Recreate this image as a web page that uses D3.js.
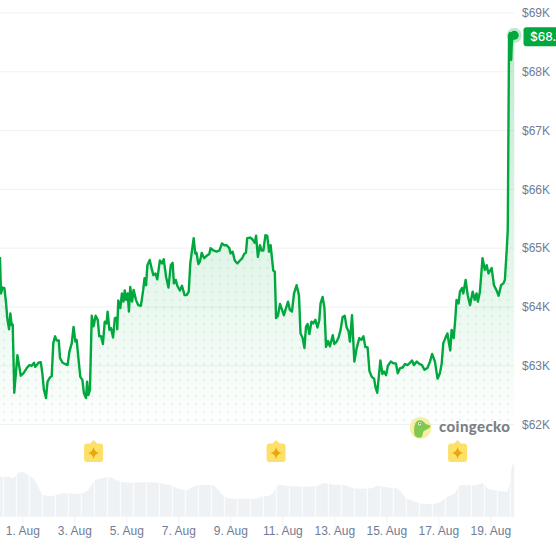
<!DOCTYPE html>
<html>
<head>
<meta charset="utf-8">
<script src="https://cdn.jsdelivr.net/npm/d3@7"></script>
<style>
html, body { margin: 0; padding: 0; background: #fff; overflow: hidden; }
svg { display: block; font-family: Inter, "Noto Sans", sans-serif; }
.tick text { fill: #6f7c96; font-size: 12px; }
</style>
</head>
<body>
<svg id="chart" width="556" height="545"></svg>
<script>
// day of August (fractional) for each price reading
var priceDays = [0.14,0.18,0.24,0.31,0.37,0.42,0.49,0.54,0.59,0.63,0.69,0.81,0.94,1.04,1.17,1.27,1.36,1.45,1.5,1.62,1.71,1.77,1.83,1.91,1.97,2.06,2.13,2.19,2.26,2.32,2.4,2.45,2.55,2.64,2.74,2.81,2.9,2.97,3.04,3.09,3.17,3.23,3.31,3.37,3.45,3.49,3.54,3.6,3.67,3.74,3.82,3.9,3.96,4.03,4.1,4.17,4.24,4.28,4.35,4.41,4.49,4.56,4.64,4.65,4.69,4.77,4.83,4.89,4.94,4.99,5.05,5.1,5.15,5.22,5.28,5.37,5.46,5.56,5.65,5.7,5.76,5.81,5.9,5.97,6.04,6.12,6.19,6.29,6.37,6.44,6.53,6.62,6.71,6.78,6.83,6.9,6.96,7.06,7.14,7.24,7.32,7.4,7.46,7.51,7.59,7.65,7.7,7.77,7.83,7.9,7.99,8.09,8.19,8.24,8.35,8.47,8.58,8.68,8.76,8.86,8.96,9.01,9.09,9.17,9.27,9.37,9.46,9.53,9.6,9.65,9.76,9.85,9.94,9.99,10.06,10.14,10.2,10.27,10.35,10.42,10.49,10.55,10.65,10.71,10.76,10.83,10.91,10.99,11.06,11.14,11.22,11.29,11.37,11.45,11.55,11.64,11.7,11.78,11.85,11.91,11.97,12.04,12.12,12.19,12.27,12.35,12.42,12.47,12.55,12.62,12.68,12.76,12.83,12.94,13.0,13.09,13.17,13.24,13.32,13.4,13.47,13.55,13.6,13.68,13.77,13.86,13.96,14.04,14.12,14.19,14.28,14.35,14.44,14.53,14.58,14.65,14.71,14.77,14.85,14.91,14.99,15.06,15.17,15.27,15.37,15.44,15.53,15.63,15.72,15.81,15.91,15.99,16.06,16.17,16.27,16.37,16.47,16.58,16.68,16.76,16.87,16.97,17.06,17.13,17.19,17.27,17.35,17.41,17.46,17.51,17.59,17.65,17.7,17.78,17.83,17.91,17.96,18.05,18.13,18.22,18.32,18.4,18.47,18.52,18.6,18.7,18.79,18.86,18.93,19.05,19.14,19.24,19.32,19.41,19.5,19.56,19.63,19.67,19.7,19.72,19.76,19.8,19.83,19.92];
// price in thousand USD
var prices = [64.85,64.23,64.33,64.32,64.09,63.81,63.62,63.89,63.69,63.7,62.54,63.18,62.83,62.87,62.96,63.01,63.0,63.05,62.98,63.05,63.06,62.87,62.59,62.45,62.73,62.8,62.82,63.38,63.5,63.43,63.43,63.13,63.05,63.03,63.01,63.24,63.38,63.66,63.41,63.44,63.07,62.81,62.76,62.53,62.45,62.73,62.5,62.59,63.85,63.67,63.85,63.78,63.5,63.5,63.37,63.75,63.72,63.92,63.61,63.64,63.48,63.81,63.82,63.62,64.11,63.98,64.23,64.09,64.28,64.12,64.23,63.92,64.34,64.09,64.29,64.12,64.03,64.02,64.29,64.49,64.37,64.71,64.8,64.66,64.54,64.57,64.47,64.79,64.74,64.81,64.51,64.33,64.71,64.75,64.4,64.46,64.36,64.28,64.36,64.2,64.2,64.26,64.74,64.91,65.17,64.91,64.92,64.73,64.77,64.92,64.83,64.87,64.9,65.0,64.96,64.94,64.96,65.08,65.05,65.05,65.0,64.91,64.94,64.79,64.74,64.79,64.83,64.9,64.92,65.17,65.18,65.15,65.09,65.21,64.85,65.05,64.96,64.96,65.22,65.21,64.94,65.05,64.62,64.6,63.81,63.85,64.05,63.95,63.86,63.98,64.09,63.95,63.92,64.23,64.37,64.2,63.55,63.47,63.3,63.66,63.71,63.54,63.75,63.72,63.78,63.65,63.77,64.06,64.17,63.98,63.32,63.42,63.33,63.52,63.37,63.41,63.49,63.61,63.83,63.85,63.66,63.58,63.41,63.86,63.07,63.3,63.47,63.44,63.5,63.32,63.31,62.91,62.81,62.78,62.64,62.54,62.81,63.09,62.86,62.9,62.84,63.0,63.07,63.04,63.04,62.87,62.96,62.97,63.03,63.01,63.05,63.09,63.01,63.07,63.03,63.01,62.93,62.96,63.07,63.2,63.07,62.78,62.87,63.04,63.38,63.47,63.55,63.38,63.26,63.61,63.47,63.78,64.12,64.06,64.26,64.32,64.23,64.46,64.2,64.03,64.26,64.12,64.23,64.09,64.26,64.83,64.63,64.71,64.57,64.66,64.37,64.28,64.19,64.37,64.4,64.46,64.97,65.31,67.21,68.62,68.66,68.2,68.54,68.62];

var volumeDays = [0.14,0.27,0.46,0.65,0.78,0.94,1.1,1.29,1.42,1.55,1.68,1.81,2.06,2.32,2.64,3.03,3.28,3.5,3.67,3.8,3.99,4.31,4.63,4.88,5.27,5.65,6.1,6.42,6.81,7.0,7.32,7.58,7.83,8.28,8.47,8.67,8.86,9.12,9.5,9.95,10.2,10.53,10.72,10.85,11.27,11.78,12.29,12.62,13.0,13.38,13.77,14.03,14.41,14.67,14.99,15.37,15.56,15.76,16.01,16.4,16.78,17.04,17.3,17.62,17.88,18.13,18.45,18.71,18.9,19.09,19.35,19.63,19.73,19.83,19.92];
// volume in billion USD
var volumes = [24,24,24,23,25.4,26.8,26.4,24.4,23,20,15.6,13,12.4,13.2,14,13.6,14,15.6,19,22,22.8,23.6,22,20.8,20.4,20.6,20.6,19.6,18.4,16.8,16,18,19,19,17.4,13.6,11.4,10.8,10.8,10.8,12,12.8,16,19,18.4,18,18.4,20.2,19.2,18.8,17,16.8,17,18.6,17.6,17,15,11,9.6,7.8,7.6,8.6,11.4,14,19.2,18.8,18.8,20,17,16,15.4,15,19,30,32];

var priceTicks = [62,63,64,65,66,67,68,69];
var dayTicks = [1,3,5,7,9,11,13,15,17,19];
var eventDays = [3.74,10.76,17.74];
var lastLabel = "$68.5K";

var svg = d3.select("#chart");
var green = "#00a83e";

var x = d3.scaleLinear().domain([1, 19]).range([22.33, 490.33]);
var y = d3.scaleLinear().domain([62, 69]).range([424.5, 13]);
var yVol = d3.scaleLinear().domain([0, 60]).range([516.7, 416.7]);
var plotRight = x(19.92);

var pricePoints = priceDays.map(function (d, i) { return [d, prices[i]]; });
var volumePoints = volumeDays.map(function (d, i) { return [d, volumes[i]]; });

var defs = svg.append("defs");
var grad = defs.append("linearGradient")
    .attr("id", "fade").attr("x1", 0).attr("x2", 0).attr("y1", 0).attr("y2", 1)
    .attr("gradientUnits", "objectBoundingBox");
grad.append("stop").attr("offset", "0%").attr("stop-color", green).attr("stop-opacity", 0.25);
grad.append("stop").attr("offset", "55%").attr("stop-color", green).attr("stop-opacity", 0.12);
grad.append("stop").attr("offset", "100%").attr("stop-color", green).attr("stop-opacity", 0.005);

var dots = defs.append("pattern")
    .attr("id", "dots").attr("width", 8).attr("height", 8)
    .attr("patternUnits", "userSpaceOnUse");
dots.append("circle").attr("cx", 4).attr("cy", 4).attr("r", 1.2)
    .attr("fill", green).attr("fill-opacity", 0.09);

// grid + price axis
svg.append("g")
    .selectAll("line")
    .data(priceTicks)
    .enter()
    .append("line")
    .attr("x1", 0).attr("x2", plotRight)
    .attr("y1", function (d) { return y(d); })
    .attr("y2", function (d) { return y(d); })
    .attr("stroke", "#eff2f5");

var yAxis = d3.axisRight(y)
    .tickValues(priceTicks)
    .tickSize(0)
    .tickPadding(0)
    .tickFormat(function (d) { return "$" + d + "K"; });
var yAxisG = svg.append("g").attr("transform", "translate(522,0)").call(yAxis);
yAxisG.select(".domain").remove();

// volume
var volumeArea = d3.area()
    .x(function (d) { return x(d[0]); })
    .y0(yVol(0))
    .y1(function (d) { return yVol(d[1]); })
    .curve(d3.curveMonotoneX);
svg.append("path").datum(volumePoints).attr("d", volumeArea).attr("fill", "#eff2f5");

// the thin white slits between the volume columns, every half day
svg.append("g")
    .selectAll("line")
    .data(d3.range(0.27, 19.9, 0.5))
    .enter()
    .append("line")
    .attr("x1", function (d) { return x(d); })
    .attr("x2", function (d) { return x(d); })
    .attr("y1", yVol(0)).attr("y2", yVol(40))
    .attr("stroke", "#fff").attr("stroke-width", 0.9);

// price area + line
var priceArea = d3.area()
    .x(function (d) { return x(d[0]); })
    .y0(y(62))
    .y1(function (d) { return y(d[1]); });
svg.append("path").datum(pricePoints).attr("d", priceArea).attr("fill", "url(#fade)");
svg.append("path").datum(pricePoints).attr("d", priceArea).attr("fill", "url(#dots)");

var priceLine = d3.line()
    .x(function (d) { return x(d[0]); })
    .y(function (d) { return y(d[1]); });
svg.append("path").datum(pricePoints)
    .attr("d", priceLine)
    .attr("fill", "none")
    .attr("stroke", green)
    .attr("stroke-width", 2.4)
    .attr("stroke-linejoin", "round");

// end marker and price tag
var lastPoint = pricePoints[pricePoints.length - 1];
svg.append("circle").attr("cx", x(lastPoint[0])).attr("cy", y(lastPoint[1]))
    .attr("r", 7.5).attr("fill", green).attr("fill-opacity", 0.25);
svg.append("circle").attr("cx", x(lastPoint[0])).attr("cy", y(lastPoint[1]))
    .attr("r", 4.5).attr("fill", green);
svg.append("rect").attr("x", 523.5).attr("y", y(lastPoint[1]) - 8).attr("width", 50).attr("height", 19)
    .attr("rx", 3).attr("fill", green);
svg.append("text").attr("x", 530).attr("y", y(lastPoint[1]) + 5.5)
    .attr("fill", "#fff").attr("font-size", 12).attr("font-weight", 500).text(lastLabel);

// time axis
var xAxis = d3.axisBottom(x)
    .tickValues(dayTicks)
    .tickSize(10)
    .tickPadding(-1)
    .tickFormat(function (d) { return d + ". Aug"; });
var xAxisG = svg.append("g").attr("transform", "translate(0,517)").call(xAxis);
xAxisG.select(".domain").remove();
xAxisG.selectAll("line").attr("stroke", "#eff2f5");

// event flags
var flags = svg.append("g").selectAll("g")
    .data(eventDays)
    .enter()
    .append("g")
    .attr("transform", function (d) { return "translate(" + x(d) + ",453)"; });
flags.append("path").attr("d", "M-9.5,-6.5a3,3 0 0 1 3,-3H-3.5L0,-13L3.5,-9.5H6.5a3,3 0 0 1 3,3V6a3,3 0 0 1 -3,3H-6.5a3,3 0 0 1 -3,-3Z")
    .attr("fill", "#fde068");
flags.append("path").attr("d", "M0,-6Q0.9,-1.2 5.5,0Q0.9,1.2 0,6Q-0.9,1.2 -5.5,0Q-0.9,-1.2 0,-6Z")
    .attr("fill", "#eaa60c");

// coingecko mark
var logo = svg.append("g").attr("transform", "translate(420.6,427.8)");
logo.append("circle").attr("r", 10.8).attr("fill", "#f6eea6");
logo.append("path").attr("d", "M-6,7.5C-7,2 -6.5,-5 -3,-7C0,-8.5 3,-6.5 5,-4C7,-2.5 9.5,-3 10,-2C9,1 5,2 3,3.5C2,5.5 2,8 1,9.5C-2,10.5 -5,9.5 -6,7.5Z")
    .attr("fill", "#7fc94f");
logo.append("circle").attr("cx", -1).attr("cy", -4).attr("r", 1.6).attr("fill", "#fff");
logo.append("circle").attr("cx", -0.8).attr("cy", -4).attr("r", 0.8).attr("fill", "#555");
svg.append("text").attr("x", 439).attr("y", 431.5)
    .attr("font-family", "Lato, 'Open Sans', sans-serif")
    .attr("font-size", 15).attr("font-weight", 900).attr("letter-spacing", 0.4).attr("fill", "#7b8085")
    .text("coingecko");
</script>
</body>
</html>
